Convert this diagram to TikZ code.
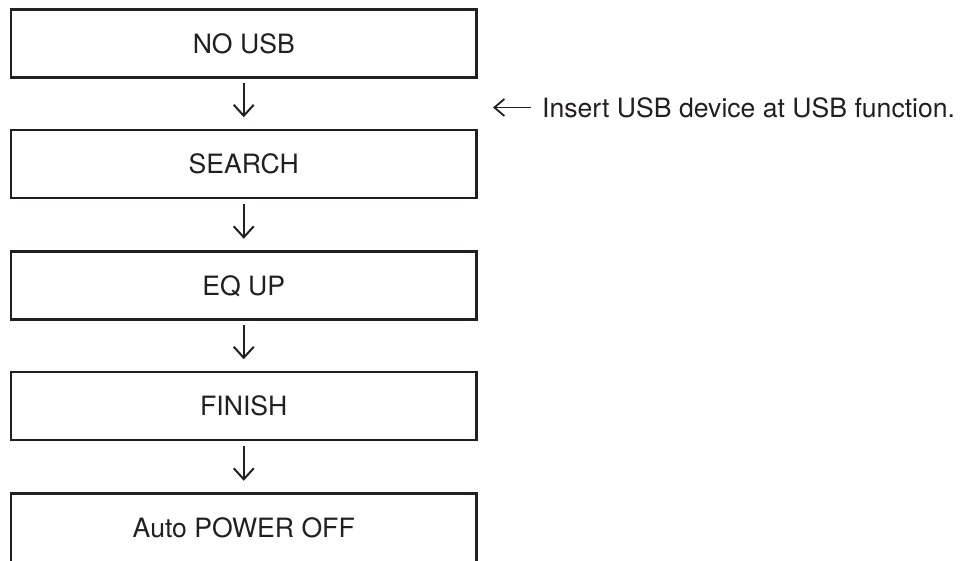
\documentclass[tikz,border=0pt]{standalone}
\usepackage{fontspec}
\setmainfont{TeX Gyre Heros}
\usetikzlibrary{arrows.meta}
\definecolor{ink}{HTML}{231F20}
\begin{document}
\begin{tikzpicture}[x=1pt,y=-1pt,
  stepfont/.style={font=\fontsize{26.6pt}{30pt}\selectfont, text=ink},
  stepbox/.style={draw=ink, line width=2.5pt, rectangle, inner sep=0pt,
    minimum width=465.5pt, minimum height=68pt,
    text height=19pt, text depth=0pt, stepfont},
  flow/.style={draw=ink, line width=2pt,
    -{Straight Barb[length=11pt,width=20pt]},
    shorten <=4.5pt, shorten >=11.5pt},
  side/.style={draw=ink, line width=1.8pt,
    -{Straight Barb[length=10pt,width=17pt]}},
  notetext/.style={inner sep=0pt, anchor=west, text height=19pt, text depth=0pt, stepfont}]
  \useasboundingbox (0,0) rectangle (961,560);
  \begin{scope}
    \clip (0,0) rectangle (961,560);
    % the chain of steps; the last box runs past the lower edge
    \node[stepbox] (nousb)  at (243.75,43.5)  {NO USB};
    \node[stepbox] (search) at (243.75,164)   {SEARCH};
    \node[stepbox] (equp)   at (243.75,285.5) {EQ UP};
    \node[stepbox] (finish) at (243.75,406)   {FINISH};
    \node[stepbox, minimum height=76pt, text depth=8pt] (poff) at (243.75,531.5) {Auto POWER OFF};
  \end{scope}
  \draw[flow] (nousb.south)  -- (search.north);
  \draw[flow] (search.south) -- (equp.north);
  \draw[flow] (equp.south)   -- (finish.north);
  \draw[flow] (finish.south) -- (poff.north);
  % side note with its pointer
  \node[notetext] (note) at (542,107.5) {Insert USB device at USB function.};
  \coordinate (notetip) at (493,107.5);
  \draw[side, shorten <=11pt] (note.west) -- (notetip);
\end{tikzpicture}
\end{document}
